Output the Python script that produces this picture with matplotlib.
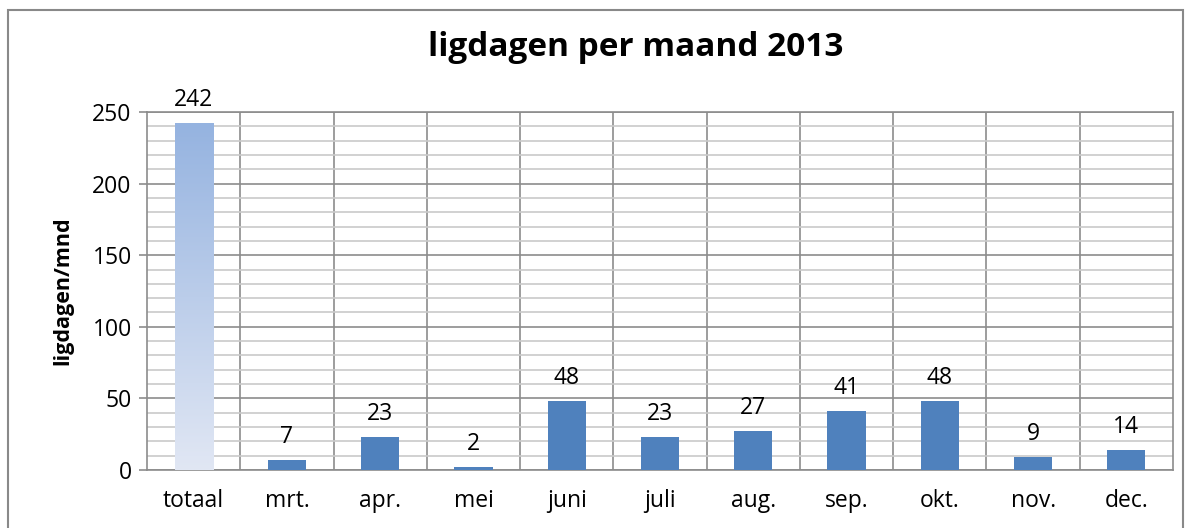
import matplotlib
matplotlib.use("Agg")
import matplotlib.pyplot as plt
import numpy as np
from matplotlib.patches import Rectangle
from matplotlib.colors import LinearSegmentedColormap

categories = ["totaal", "mrt.", "apr.", "mei", "juni", "juli", "aug.", "sep.", "okt.", "nov.", "dec."]
values = [242, 7, 23, 2, 48, 23, 27, 41, 48, 9, 14]
yticks = [0, 50, 100, 150, 200, 250]

plt.rcParams['font.family'] = ['Open Sans', 'DejaVu Sans']

fig = plt.figure(figsize=(11.91, 5.28), dpi=100)
# outer border
fig.patches.append(Rectangle((8/1191, -0.05), (1183-8)/1191, 1 - 10/528 + 0.05,
                             transform=fig.transFigure, fill=False, edgecolor="#898989", linewidth=1.5))

ax = fig.add_axes([147/1191, 1 - 470/528, (1173-147)/1191, (470-112)/528])
n = len(categories)
x = np.arange(n)
barw = 0.41
bars = ax.bar(x, values, width=barw, color="#4F81BD", zorder=3)

# gradient for the totaal bar
b0 = bars[0]
b0.set_facecolor("none")
cmap = LinearSegmentedColormap.from_list("g", ["#E1E7F4", "#95B3E0"])
grad = np.linspace(0, 1, 256).reshape(-1, 1)
im = ax.imshow(grad, cmap=cmap, origin="lower", aspect="auto",
               extent=[x[0] - barw/2, x[0] + barw/2, 0, values[0]], zorder=3)
im.set_clip_path(b0)

ax.set_xlim(-0.5, n - 0.5)
ax.set_ylim(0, 250)
ax.set_yticks(yticks)
ax.set_yticks(np.arange(0, 251, 10), minor=True)
ax.grid(True, which="minor", axis="y", color="#CACACA", linewidth=1.2, zorder=0)
ax.grid(True, which="major", axis="y", color="#8C8C8C", linewidth=1.2, zorder=1)
for b in np.arange(0.5, n - 0.5, 1):
    ax.axvline(b, color="#8C8C8C", linewidth=1.2, zorder=1)

ax.set_xticks(x)
ax.set_xticklabels(categories, fontsize=16.5)
ax.tick_params(axis="x", length=0, pad=14)
ax.tick_params(axis="y", which="major", length=6, width=1.2, color="#8C8C8C", labelsize=16.5, pad=5)
ax.tick_params(axis="y", which="minor", length=0)
for s in ["left", "bottom", "right", "top"]:
    ax.spines[s].set_color("#8C8C8C")
    ax.spines[s].set_linewidth(1.2)

for xi, v in zip(x, values):
    ax.annotate(str(v), (xi, v), xytext=(0, 8), textcoords="offset points",
                ha="center", va="bottom", fontsize=16.5)

ax.set_ylabel("ligdagen/mnd", fontsize=15.5, fontweight="bold", labelpad=14)
fig.text(0.5 + 40/1191, 1 - 48/528, "ligdagen per maand 2013", ha="center", va="center",
         fontsize=24, fontweight="bold")

fig.savefig("out.png", dpi=100)
